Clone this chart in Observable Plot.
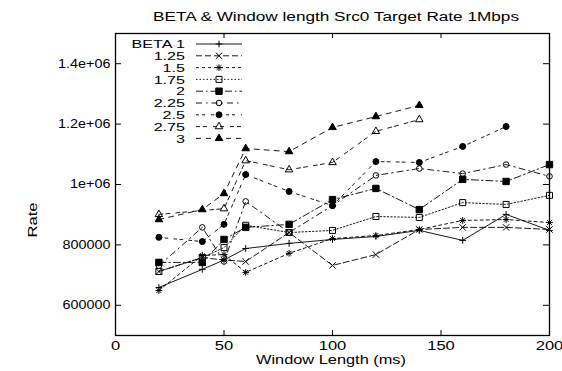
<!DOCTYPE html>
<html><head><meta charset="utf-8">
<script src="https://cdn.jsdelivr.net/npm/d3@7"></script>
<script src="https://cdn.jsdelivr.net/npm/@observablehq/plot@0.6"></script>
<style>body{margin:0;background:#fff} svg{display:block}</style>
</head><body><div id="chart"></div>
<script>
// ---- data ----
const windowMs = [20, 40, 50, 60, 80, 100, 120, 140, 160, 180, 200];
const rateBeta100 = [659000, 719000, 750000, 788000, 805000, 818000, 828000, 848000, 815000, 901000, 848000];
const rateBeta125 = [712000, 758000, 750000, 745000, 841000, 732000, 768000, 851000, 858000, 858000, 851000];
const rateBeta150 = [649000, 765000, 768000, 709000, 772000, 821000, 831000, 851000, 881000, 884000, 874000];
const rateBeta175 = [712000, 758000, 791000, 865000, 841000, 848000, 894000, 891000, 940000, 934000, 964000];
const rateBeta200 = [742000, 742000, 818000, 858000, 868000, 950000, 987000, 917000, 1017000, 1010000, 1066000];
const rateBeta225 = [731000, 858000, 745000, 944000, 841000, 930000, 1030000, 1053000, 1036000, 1066000, 1027000];
const rateBeta250 = [825000, 811000, 868000, 1033000, 977000, 930000, 1076000, 1073000, 1126000, 1192000, null];
const rateBeta275 = [901000, null, 920000, 1079000, 1049000, 1073000, 1176000, 1215000, null, null, null];
const rateBeta300 = [884000, 917000, 970000, 1119000, 1109000, 1189000, 1225000, 1262000, null, null, null];
const seriesLabels = ["BETA 1", "1.25", "1.5", "1.75", "2", "2.25", "2.5", "2.75", "3"];
const seriesValues = [rateBeta100, rateBeta125, rateBeta150, rateBeta175, rateBeta200, rateBeta225, rateBeta250, rateBeta275, rateBeta300];
const xTicks = [0, 50, 100, 150, 200];
const yTicks = [600000, 800000, 1000000, 1200000, 1400000];
const yTickLabels = ["600000", "800000", "1e+06", "1.2e+06", "1.4e+06"];
const titleText = "BETA & Window length Src0 Target Rate 1Mbps";
const xLabel = "Window Length (ms)";
const yLabel = "Rate";

// ---- styles ----
const styles = [
  {syms: ["plus"], r: 2.3, fill: "none", dash: null},
  {syms: ["times"], r: 3.0, fill: "none", dash: "6,3"},
  {syms: ["plus", "times"], r: 2.3, fill: "none", dash: "3,3"},
  {syms: ["square"], r: 3.4, fill: "none", dash: "1.5,2"},
  {syms: ["square"], r: 3.6, fill: "black", dash: "7,3,1.5,3"},
  {syms: ["circle"], r: 2.8, fill: "none", dash: "6,4,1.5,4"},
  {syms: ["circle"], r: 3.0, fill: "black", dash: "3,3,3,6"},
  {syms: ["triangle"], r: 2.8, fill: "none", dash: "4,3,4,6"},
  {syms: ["triangle"], r: 2.8, fill: "black", dash: "5,5"}
];
const symbolMap = {plus: d3.symbolPlus, times: d3.symbolTimes, square: d3.symbolSquare, circle: d3.symbolCircle, triangle: d3.symbolTriangle};

const W = 562, H = 371, mL = 115, mR = 13, mT = 33, mB = 36;
const pw = W - mL - mR, ph = H - mT - mB;

const series = seriesValues.map((vals, i) => ({
  label: seriesLabels[i],
  rows: windowMs.map((x, j) => ({x, y: vals[j]})).filter(d => d.y != null)
}));

const marks = [];
series.forEach((s, i) => {
  const st = styles[i];
  marks.push(Plot.line(s.rows, {x: "x", y: "y", stroke: "black", strokeWidth: 0.9, strokeDasharray: st.dash || undefined}));
  st.syms.forEach(sym => {
    marks.push(Plot.dot(s.rows, {x: "x", y: "y", symbol: sym, r: st.r, fill: st.fill, stroke: "black", strokeWidth: 1}));
  });
});

const chart = Plot.plot({
  width: W, height: H,
  marginLeft: mL, marginRight: mR, marginTop: mT, marginBottom: mB,
  style: {fontFamily: "'Liberation Sans', Arial, sans-serif", fontSize: "12px", background: "white", color: "black"},
  x: {domain: [0, 200]},
  y: {domain: [500000, 1500000]},
  marks: [
    ...marks,
    Plot.tickY(yTicks, {y: d => d, insetRight: pw - 6, stroke: "black"}),
    Plot.tickY(yTicks, {y: d => d, insetLeft: pw - 6, stroke: "black"}),
    Plot.tickX(xTicks, {x: d => d, insetTop: ph - 5, stroke: "black"}),
    Plot.tickX(xTicks, {x: d => d, insetBottom: ph - 5, stroke: "black"}),
    Plot.axisX({ticks: xTicks, tickSize: 0, tickPadding: 6, fontSize: 12, label: null, tickFormat: d => String(d)}),
    Plot.axisY({ticks: yTicks, tickSize: 0, tickPadding: 5, fontSize: 12, label: null, tickFormat: d => yTickLabels[yTicks.indexOf(d)]}),
    Plot.frame({stroke: "black", strokeWidth: 1.3})
  ]
});

document.getElementById("chart").append(chart);
const svg = d3.select(chart);

// title and axis labels
svg.append("text").attr("class", "ttl").attr("x", 336).attr("y", 21).attr("text-anchor", "middle")
  .attr("font-size", 12).text(titleText);
svg.append("text").attr("class", "xl").attr("x", 331).attr("y", 364).attr("text-anchor", "middle")
  .attr("font-size", 12).text(xLabel);
svg.append("text").attr("class", "yl").attr("transform", "translate(37,220) rotate(-90)").attr("text-anchor", "middle")
  .attr("font-size", 12).text(yLabel);

// legend
const lg = svg.append("g").attr("class", "legend");
series.forEach((s, i) => {
  const st = styles[i];
  const yy = 44 + i * 11.8;
  lg.append("text").attr("class", "lgt").attr("x", 185).attr("y", yy + 4.2).attr("text-anchor", "end").attr("font-size", 11.5).text(s.label);
  lg.append("line").attr("x1", 196).attr("x2", 242).attr("y1", yy).attr("y2", yy)
    .attr("stroke", "black").attr("stroke-width", 0.9).attr("stroke-dasharray", st.dash);
  st.syms.forEach(sym => {
    lg.append("path").attr("transform", `translate(219,${yy})`)
      .attr("d", d3.symbol(symbolMap[sym], Math.PI * st.r * st.r)())
      .attr("fill", st.fill).attr("stroke", "black").attr("stroke-width", 1);
  });
});

// widen the text like the reference's stretched font
const yAxisTexts = new Set();
svg.selectAll("[aria-label='y-axis tick label'] text").each(function() { yAxisTexts.add(this); });
svg.selectAll("text").each(function() {
  const w = this.getComputedTextLength();
  let target = w * 1.38;
  if (yAxisTexts.has(this)) target = w * 1.2;
  if (this.classList.contains("lgt")) target = w * 1.4;
  if (this.classList.contains("ttl")) target = 366;
  if (this.classList.contains("xl")) target = 150;
  this.setAttribute("textLength", target);
  this.setAttribute("lengthAdjust", "spacingAndGlyphs");
});
</script>
</body></html>
